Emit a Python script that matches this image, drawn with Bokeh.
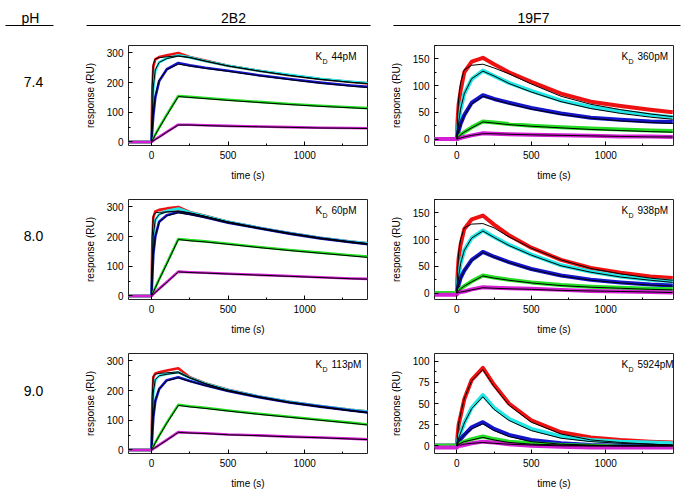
from bokeh.plotting import figure
from bokeh.layouts import column, row
from bokeh.models import Range1d, Label, SingleIntervalTicker
from bokeh.embed import file_html
from bokeh.resources import INLINE
from bokeh.core.properties import value

# ---------------- data ----------------
TIME = [-150, 0, 5, 12, 25, 50, 100, 175, 250, 350, 500, 700, 900, 1100, 1300, 1450]

HEADERS = ["pH", "2B2", "19F7"]
PH_VALUES = ["7.4", "8.0", "9.0"]
KD_2B2 = ["44pM", "60pM", "113pM"]
KD_19F7 = ["360pM", "938pM", "5924pM"]
SERIES = ["red", "cyan", "blue", "green", "magenta"]

# 2B2, pH 7.4
a_red     = [0, 0, 160, 255, 278, 286, 292, 300, 286, 274, 257, 240, 225, 212, 202, 196]
a_cyan    = [0, 0, 80, 180, 240, 268, 282, 292, 285, 273, 257, 240, 226, 213, 203, 197]
a_blue    = [0, 0, 40, 90, 150, 205, 245, 266, 258, 250, 240, 225, 212, 200, 190, 184]
a_green   = [0, 0, 5, 12, 25, 48, 92, 155, 152, 148, 142, 135, 128, 122, 117, 113]
a_magenta = [0, 0, 2, 4, 9, 17, 34, 58, 58, 56, 54, 52, 50, 48, 47, 46]
a_fit_red     = [0, 0, 190, 262, 280, 284, 287, 290, 285, 273, 256, 239, 224, 211, 201, 195]
a_fit_cyan    = [0, 0, 85, 185, 243, 268, 281, 289, 284, 272, 256, 239, 224, 211, 201, 195]
a_fit_blue    = [0, 0, 42, 95, 155, 208, 244, 262, 256, 248, 238, 223, 210, 198, 188, 182]
a_fit_green   = [0, 0, 4, 11, 24, 47, 90, 153, 150, 146, 140, 133, 126, 120, 115, 111]
a_fit_magenta = [0, 0, 2, 4, 8, 16, 33, 57, 57, 55, 53, 51, 49, 47, 46, 45]

# 2B2, pH 8.0
b_red     = [0, 0, 170, 265, 285, 290, 295, 300, 283, 270, 250, 230, 212, 196, 183, 175]
b_cyan    = [0, 0, 100, 200, 255, 275, 287, 295, 282, 269, 250, 230, 212, 196, 183, 175]
b_blue    = [0, 0, 60, 140, 200, 250, 272, 283, 276, 265, 247, 228, 210, 194, 181, 172]
b_green   = [0, 0, 6, 14, 28, 56, 110, 192, 188, 184, 176, 165, 155, 146, 137, 131]
b_magenta = [0, 0, 2, 6, 12, 24, 47, 82, 80, 78, 75, 71, 67, 63, 59, 57]
b_fit_red     = [0, 0, 200, 270, 280, 282, 283, 284, 279, 268, 249, 229, 211, 195, 182, 174]
b_fit_cyan    = [0, 0, 105, 205, 257, 275, 283, 287, 280, 268, 249, 229, 211, 195, 182, 174]
b_fit_blue    = [0, 0, 62, 142, 202, 248, 270, 280, 274, 264, 246, 227, 209, 193, 180, 171]
b_fit_green   = [0, 0, 6, 13, 27, 55, 108, 190, 186, 182, 174, 163, 153, 144, 135, 128]
b_fit_magenta = [0, 0, 2, 6, 12, 23, 46, 81, 79, 77, 74, 70, 66, 62, 58, 56]

# 2B2, pH 9.0
c_red     = [0, 0, 150, 245, 258, 262, 268, 275, 245, 225, 203, 180, 162, 148, 135, 127]
c_cyan    = [0, 0, 90, 190, 235, 250, 256, 262, 243, 224, 202, 180, 162, 148, 135, 127]
c_blue    = [0, 0, 50, 110, 165, 205, 235, 245, 232, 218, 199, 178, 160, 146, 133, 124]
c_green   = [0, 0, 5, 12, 25, 48, 92, 152, 147, 142, 133, 122, 112, 102, 92, 84]
c_magenta = [0, 0, 2, 4, 8, 17, 34, 60, 58, 56, 52, 49, 45, 42, 38, 35]
c_fit_red     = [0, 0, 180, 248, 255, 258, 260, 263, 244, 224, 201, 179, 161, 146, 133, 124]
c_fit_cyan    = [0, 0, 95, 195, 237, 250, 255, 260, 242, 223, 200, 178, 160, 145, 132, 123]
c_fit_blue    = [0, 0, 52, 112, 167, 206, 233, 243, 231, 217, 198, 177, 159, 145, 132, 122]
c_fit_green   = [0, 0, 5, 11, 24, 47, 90, 150, 145, 140, 131, 120, 110, 100, 90, 82]
c_fit_magenta = [0, 0, 2, 4, 8, 16, 33, 59, 57, 55, 51, 48, 44, 41, 37, 34]

# 19F7, pH 7.4
d_red     = [0, 0, 35, 65, 90, 125, 145, 152, 140, 125, 107, 85, 70, 62, 55, 50]
d_cyan    = [0, 0, 15, 30, 55, 85, 112, 128, 118, 105, 90, 72, 60, 52, 45, 41]
d_blue    = [0, 0, 7, 15, 28, 45, 68, 82, 75, 68, 58, 48, 40, 36, 33, 32]
d_green   = [0, 0, 2, 4, 8, 13, 22, 33, 31, 28, 25, 22, 20, 18, 16, 15]
d_magenta = [0, 0, 0.5, 1, 2, 4, 7, 11, 10, 9, 8, 7, 6, 5, 5, 4]
d_fit_red     = [0, 0, 40, 75, 105, 130, 138, 140, 133, 122, 103, 80, 65, 55, 47, 42]
d_fit_cyan    = [0, 0, 15, 31, 56, 85, 113, 127, 118, 104, 88, 70, 57, 48, 41, 37]
d_fit_blue    = [0, 0, 7, 15, 27, 44, 66, 80, 74, 66, 56, 46, 39, 34, 31, 29]
d_fit_green   = [0, 0, 2, 4, 8, 13, 21, 32, 30, 27, 24, 21, 18, 16, 14, 13]
d_fit_magenta = [0, 0, 0.5, 1, 2, 4, 7, 10, 10, 9, 8, 7, 6, 5, 4, 4]

# 19F7, pH 8.0
e_red     = [0, 0, 35, 65, 90, 120, 138, 145, 128, 108, 85, 62, 47, 38, 31, 28]
e_cyan    = [0, 0, 15, 30, 55, 80, 103, 117, 105, 90, 72, 52, 40, 31, 25, 22]
e_blue    = [0, 0, 7, 15, 28, 42, 62, 77, 68, 58, 45, 33, 25, 20, 16, 14]
e_green   = [0, 0, 2, 4, 8, 13, 22, 33, 29, 25, 20, 15, 12, 10, 8, 7]
e_magenta = [-3, -3, 0, 1, 2, 3, 7, 11, 10, 9, 8, 6, 4, 3, 2, 1]
e_fit_red     = [0, 0, 40, 75, 100, 122, 129, 130, 122, 105, 84, 62, 46, 36, 28, 24]
e_fit_cyan    = [0, 0, 15, 31, 55, 80, 103, 116, 104, 89, 71, 51, 39, 30, 24, 20]
e_fit_blue    = [0, 0, 7, 15, 27, 42, 61, 76, 67, 57, 44, 32, 24, 19, 15, 13]
e_fit_green   = [0, 0, 2, 4, 8, 13, 21, 32, 28, 24, 19, 14, 11, 9, 7, 6]
e_fit_magenta = [0, 0, 0.5, 1, 2, 3, 6, 10, 9, 8, 7, 5, 4, 3, 2, 1]

# 19F7, pH 9.0
f_red     = [0, 0, 12, 25, 35, 55, 78, 92, 72, 50, 30, 16, 10, 7, 5, 4]
f_cyan    = [0, 0, 4, 9, 15, 27, 45, 60, 45, 32, 20, 11, 7, 5, 4, 3]
f_blue    = [0, 0, 2, 4, 8, 13, 22, 28, 20, 13, 7, 3, 1, 0, 0, -1]
f_green   = [0, 0, 1, 2, 3, 5, 8, 11, 8, 5, 3, 1, 0, -1, -1, -1]
f_magenta = [-2, -2, -1, 0, 0, 1, 3, 5, 4, 2, 0, -1, -2, -2, -2, -2]
f_fit_red     = [0, 0, 13, 26, 37, 56, 77, 90, 70, 48, 28, 14, 7, 4, 2, 1]
f_fit_cyan    = [0, 0, 4, 9, 15, 27, 44, 58, 43, 30, 18, 9, 5, 3, 2, 1]
f_fit_blue    = [0, 0, 2, 4, 8, 13, 20, 26, 18, 11, 5, 2, 1, 0, 0, 0]
f_fit_green   = [0, 0, 1, 2, 3, 5, 7, 10, 7, 4, 2, 1, 0, 0, 0, 0]
f_fit_magenta = [0, 0, 0, 1, 1, 2, 3, 4, 3, 2, 1, 0, 0, 0, 0, 0]

PANELS_2B2 = [
    ([a_red, a_cyan, a_blue, a_green, a_magenta],
     [a_fit_red, a_fit_cyan, a_fit_blue, a_fit_green, a_fit_magenta]),
    ([b_red, b_cyan, b_blue, b_green, b_magenta],
     [b_fit_red, b_fit_cyan, b_fit_blue, b_fit_green, b_fit_magenta]),
    ([c_red, c_cyan, c_blue, c_green, c_magenta],
     [c_fit_red, c_fit_cyan, c_fit_blue, c_fit_green, c_fit_magenta]),
]
PANELS_19F7 = [
    ([d_red, d_cyan, d_blue, d_green, d_magenta],
     [d_fit_red, d_fit_cyan, d_fit_blue, d_fit_green, d_fit_magenta]),
    ([e_red, e_cyan, e_blue, e_green, e_magenta],
     [e_fit_red, e_fit_cyan, e_fit_blue, e_fit_green, e_fit_magenta]),
    ([f_red, f_cyan, f_blue, f_green, f_magenta],
     [f_fit_red, f_fit_cyan, f_fit_blue, f_fit_green, f_fit_magenta]),
]

# ---------------- styles ----------------
FONT = "Liberation Sans"
COLORS = {"red": "#ee1111", "cyan": "#22e6e6", "blue": "#1414c8",
          "green": "#22dd22", "magenta": "#d41ed4"}

HEADER_H = 40
ROW_H = [154, 154, 145]
ROW_TOP_BORDER = [5, 5, 5]
ROW_LABEL_Y = [56, 56, 55]   # distance of row label from the row's top
FRAME_H = 100
LABEL_W = 66
LEFT_W, LEFT_BL, LEFT_BR = 317, 62, 16
RIGHT_W, RIGHT_BL, RIGHT_BR = 300, 51, 10
TOTAL_W = LABEL_W + LEFT_W + RIGHT_W


def make_panel(width, bl, br, height, bt, x_end, y_rng, y_step, data, fits, kd, lw):
    p = figure(width=width, height=height, x_range=Range1d(-150, x_end),
               y_range=Range1d(*y_rng), output_backend="svg", toolbar_location=None,
               min_border_left=bl, min_border_right=br, min_border_top=bt,
               min_border_bottom=height - bt - FRAME_H)
    p.xgrid.grid_line_color = None
    p.ygrid.grid_line_color = None
    p.outline_line_color = "#222222"
    p.outline_line_width = 1
    p.background_fill_color = "white"
    p.border_fill_color = "white"
    for name, ys in zip(SERIES, data):
        p.line(TIME, ys, line_color=COLORS[name], line_width=lw, line_join="round")
    for ys in fits:
        p.line(TIME[1:], ys[1:], line_color="black", line_width=1)
    p.xaxis.ticker = SingleIntervalTicker(interval=500, num_minor_ticks=2)
    p.yaxis.ticker = SingleIntervalTicker(interval=y_step, num_minor_ticks=2)
    for ax in (p.xaxis[0], p.yaxis[0]):
        ax.axis_line_color = None
        ax.major_tick_in = 4
        ax.major_tick_out = 0
        ax.minor_tick_in = 2
        ax.minor_tick_out = 0
        ax.major_tick_line_color = "black"
        ax.minor_tick_line_color = "black"
        ax.major_label_text_font = FONT
        ax.major_label_text_font_size = "10px"
        ax.major_label_text_color = "black"
        ax.axis_label_text_font = FONT
        ax.axis_label_text_font_size = "10px"
        ax.axis_label_text_font_style = "normal"
        ax.axis_label_text_color = "black"
        ax.major_label_standoff = 5
        ax.axis_label_standoff = 8
    p.xaxis.axis_label = "time (s)"
    p.yaxis.axis_label = "response (RU)"
    fw = width - bl - br
    p.add_layout(Label(x=fw - 52, y=FRAME_H - 16, x_units="screen", y_units="screen",
                       text="K", text_font=FONT, text_font_size="10px", text_color="black"))
    p.add_layout(Label(x=fw - 45, y=FRAME_H - 19, x_units="screen", y_units="screen",
                       text="D", text_font=FONT, text_font_size="7px", text_color="black"))
    p.add_layout(Label(x=fw - 36, y=FRAME_H - 16, x_units="screen", y_units="screen",
                       text=kd, text_font=FONT, text_font_size="10px", text_color="black"))
    return p


# header
hdr = figure(width=TOTAL_W, height=HEADER_H, x_range=Range1d(0, TOTAL_W),
             y_range=Range1d(HEADER_H, 0), x_axis_location=None, y_axis_location=None,
             output_backend="svg", toolbar_location=None, min_border=0)
hdr.grid.visible = False
hdr.outline_line_color = None
hdr.text(x=[30, 233, 533], y=[17, 17, 17], text=HEADERS, text_align="center",
         text_baseline="middle", text_font=value(FONT), text_font_size="14px", text_color="black")
hdr.segment(x0=[5, 86, 393], y0=[25, 25, 25], x1=[53, 370, 680], y1=[25, 25, 25],
            line_color="black", line_width=1)

rows = []
for i in range(3):
    h = ROW_H[i]
    bt = ROW_TOP_BORDER[i]
    lab = figure(width=LABEL_W, height=h, x_range=Range1d(0, LABEL_W), y_range=Range1d(h, 0),
                 x_axis_location=None, y_axis_location=None,
                 output_backend="svg", toolbar_location=None, min_border=0)
    lab.grid.visible = False
    lab.outline_line_color = None
    lab.text(x=[33], y=[ROW_LABEL_Y[i]], text=[PH_VALUES[i]], text_align="center",
             text_baseline="middle", text_font=value(FONT), text_font_size="14px",
             text_color="black")
    d2, f2 = PANELS_2B2[i]
    d19, f19 = PANELS_19F7[i]
    pl = make_panel(LEFT_W, LEFT_BL, LEFT_BR, h, bt, 1410, (-12, 325), 100, d2, f2, KD_2B2[i], 2.6)
    yr = (-12, 175) if i < 2 else (-9, 109)
    ys = 50 if i < 2 else 25
    pr = make_panel(RIGHT_W, RIGHT_BL, RIGHT_BR, h, bt, 1455, yr, ys, d19, f19, KD_19F7[i], 4)
    rows.append(row(lab, pl, pr, spacing=0))

layout = column(hdr, *rows, spacing=0)
open("out.html", "w").write(file_html(layout, INLINE))
